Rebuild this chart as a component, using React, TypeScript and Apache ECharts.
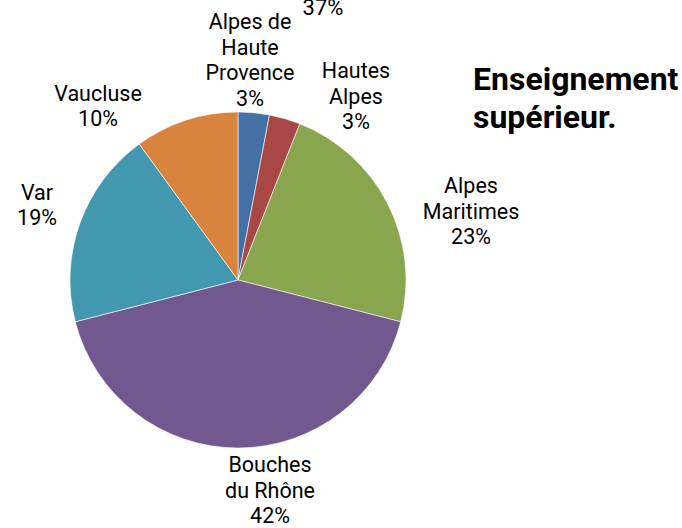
import React, { useEffect, useRef } from "react";
import * as echarts from "echarts";

const categories = [
  "Alpes de\nHaute\nProvence",
  "Hautes\nAlpes",
  "Alpes\nMaritimes",
  "Bouches\ndu Rhône",
  "Var",
  "Vaucluse",
];
const values = [3, 3, 23, 42, 19, 10];
const colors = ["#4470A5", "#A84743", "#89A54E", "#71588F", "#4198AF", "#D9843C"];
const titleLines = ["Enseignement", "supérieur."];
const strayLabel = "37%";

// label block centres relative to the pie centre (layout only)
const CX = 238;
const CY = 280;
const R = 168;
const labelOffsets: [number, number][] = [
  [12, -220],
  [118, -184],
  [233, -69],
  [32, 210],
  [-201, -75],
  [-140, -174],
];

export default function App() {
  const ref = useRef<HTMLDivElement>(null);
  useEffect(() => {
    if (!ref.current) return;
    const chart = echarts.init(ref.current, null, { renderer: "svg" });
    chart.setOption({
      animation: false,
      backgroundColor: "#ffffff",
      graphic: [
        {
          type: "text",
          left: 473,
          top: 60,
          style: {
            text: titleLines.join("\n"),
            font: "bold 32px Roboto",
            lineHeight: 38,
            fill: "#000",
          },
        },
        {
          type: "text",
          x: 323,
          y: 7,
          style: {
            text: strayLabel,
            font: "22px Roboto",
            fill: "#000",
            align: "center",
            verticalAlign: "middle",
          },
        },
      ],
      series: [
        {
          type: "pie",
          center: [CX, CY],
          radius: R,
          startAngle: 90,
          clockwise: true,
          data: categories.map((c, i) => ({
            name: c,
            value: values[i],
            itemStyle: { color: colors[i] },
          })),
          itemStyle: { borderColor: "#ffffff", borderWidth: 0.6 },
          label: {
            show: true,
            position: "outside",
            formatter: (p: any) => `${p.name}\n${p.value}%`,
            fontFamily: "Roboto",
            fontSize: 21.5,
            lineHeight: 25.5,
            color: "#000",
            align: "center",
            overflow: "none",
          },
          labelLine: { show: false },
          labelLayout: (p: any) => {
            const o = labelOffsets[p.dataIndex];
            return {
              x: CX + o[0],
              y: CY + o[1],
              align: "center",
              verticalAlign: "middle",
            };
          },
          emphasis: { disabled: true },
        },
      ],
    });
    return () => chart.dispose();
  }, []);
  return (
    <div
      ref={ref}
      style={{ position: "absolute", left: 0, top: 0, width: 682, height: 528 }}
    />
  );
}
